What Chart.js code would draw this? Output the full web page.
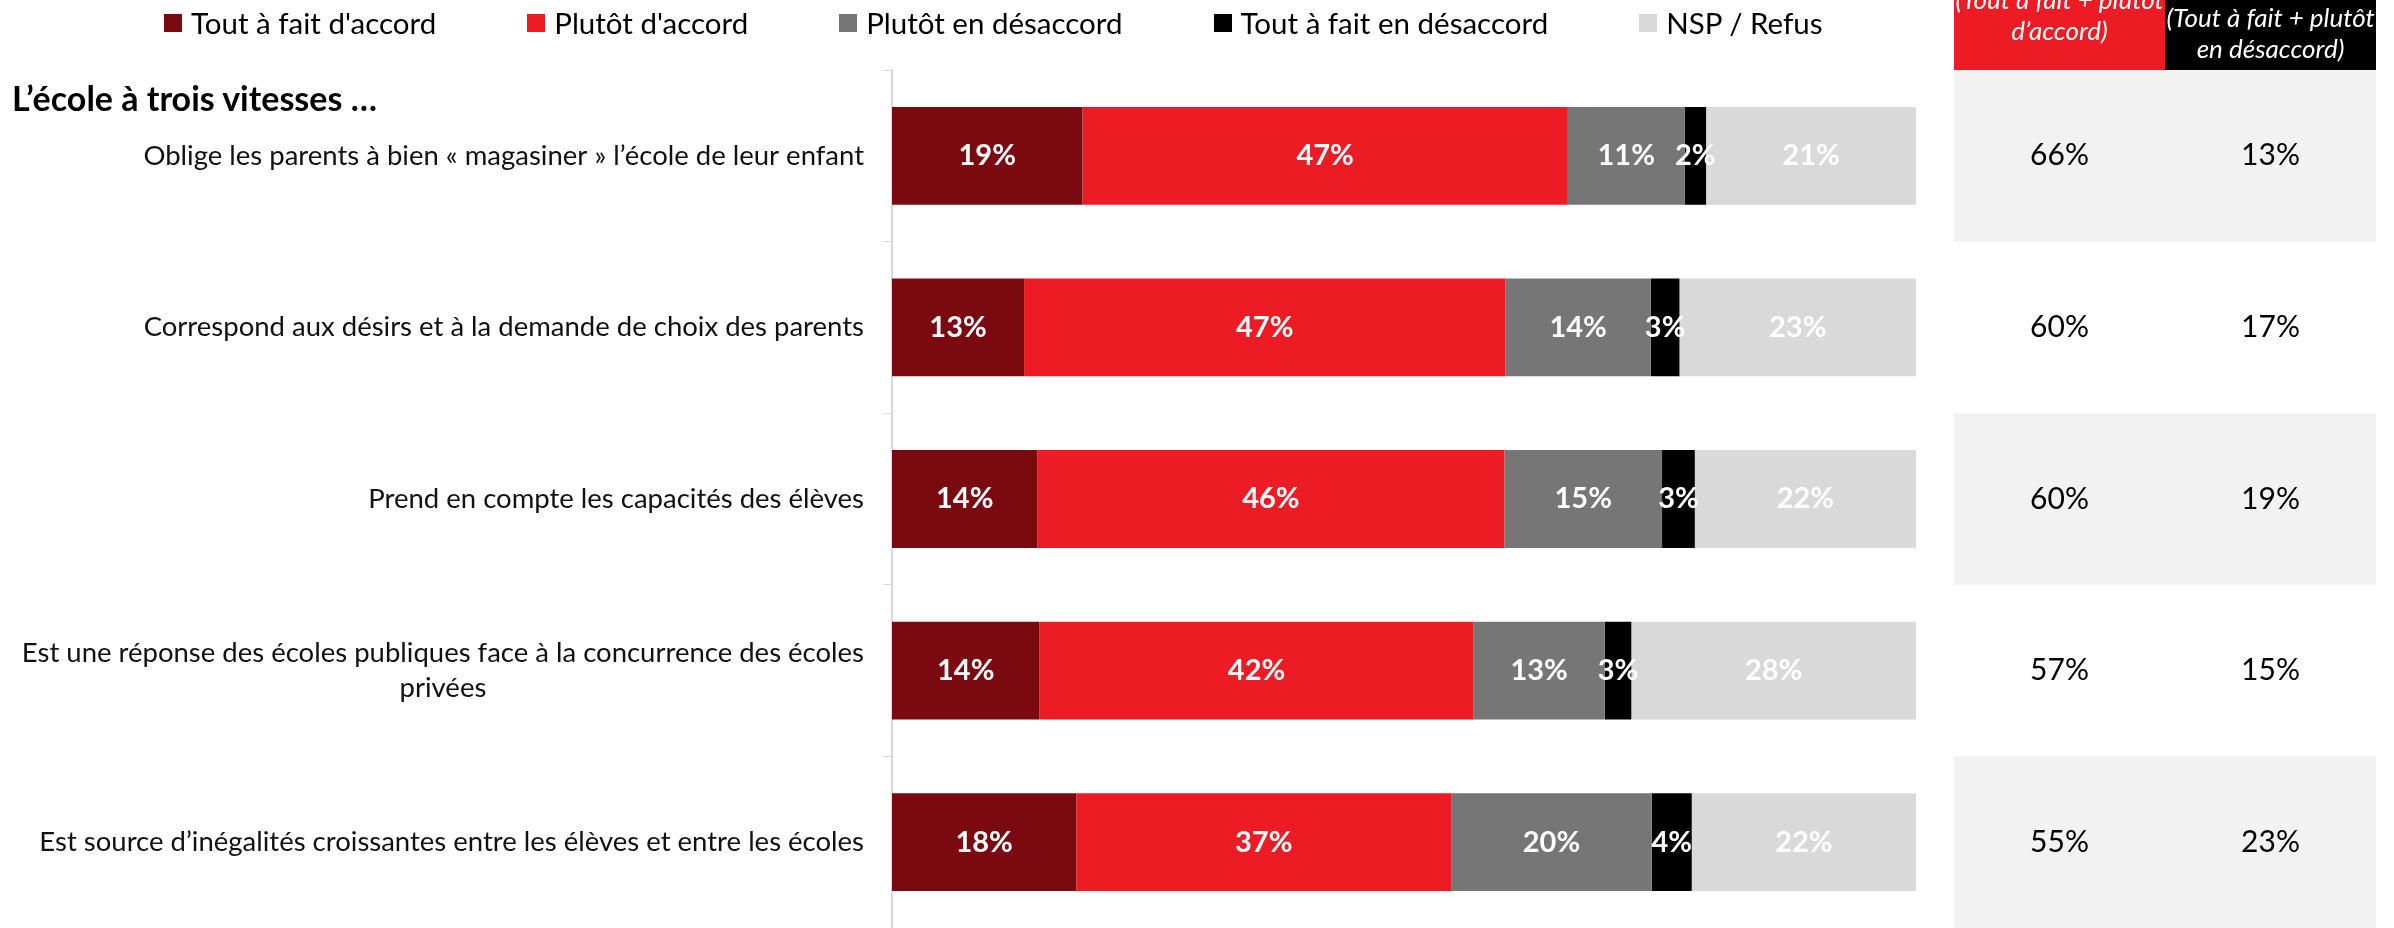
<!DOCTYPE html>
<html lang="fr">
<head>
<meta charset="utf-8">
<script src="https://cdn.jsdelivr.net/npm/chart.js@4.4.1/dist/chart.umd.min.js"></script>
<style>
  html, body { margin: 0; padding: 0; background: #fff; overflow: hidden; }
  #wrap { position: relative; width: 2394px; height: 928px; font-family: Lato, "Noto Sans", sans-serif; }
  #chart { position: absolute; left: 0; top: 0; }
  #legend { position: absolute; left: 164px; top: 8px; display: flex; gap: 91px; font-size: 29.5px; line-height: 30px; color: #000; }
  #legend .item { display: flex; align-items: center; gap: 9px; white-space: nowrap; }
  #legend .box { width: 18px; height: 18px; display: inline-block; }
  #heading { position: absolute; left: 12px; top: 81px; font-size: 34px; line-height: 34px; font-weight: bold; color: #000; }
</style>
</head>
<body>
<div id="wrap">
  <canvas id="chart" width="2394" height="928"></canvas>
  <div id="legend"></div>
  <div id="heading">L’école à trois vitesses …</div>
</div>
<script>
const categories = [
  'Oblige les parents à bien « magasiner » l’école de leur enfant',
  'Correspond aux désirs et à la demande de choix des parents',
  'Prend en compte les capacités des élèves',
  ['Est une réponse des écoles publiques face à la concurrence des écoles', 'privées'],
  'Est source d’inégalités croissantes entre les élèves et entre les écoles'
];
const seriesNames = ["Tout à fait d'accord", "Plutôt d'accord", 'Plutôt en désaccord', 'Tout à fait en désaccord', 'NSP / Refus'];
const seriesColors = ['#7b0a10', '#ed1c24', '#767676', '#000000', '#d9d9d9'];

const toutAccord = [18.6, 12.9, 14.2, 14.4, 18.0];
const plutotAccord = [47.4, 47.0, 45.6, 42.4, 36.6];
const plutotDesaccord = [11.4, 14.2, 15.4, 12.8, 19.6];
const toutDesaccord = [2.1, 2.8, 3.2, 2.6, 3.9];
const nspRefus = [20.5, 23.1, 21.6, 27.8, 21.9];

const totalAccord = [66, 60, 60, 57, 55];
const totalDesaccord = [13, 17, 19, 15, 23];
const headerAccord = ['(Tout à fait + plutôt', 'd’accord)'];
const headerDesaccord = ['(Tout à fait + plutôt', 'en désaccord)'];

const FONT = 'Lato, "Noto Sans", sans-serif';
const seriesData = [toutAccord, plutotAccord, plutotDesaccord, toutDesaccord, nspRefus];

// html legend
const legendEl = document.getElementById('legend');
seriesNames.forEach((name, i) => {
  const item = document.createElement('span');
  item.className = 'item';
  item.innerHTML = '<span class="box" style="background:' + seriesColors[i] + '"></span><span>' + name + '</span>';
  legendEl.appendChild(item);
});

// category labels on the left, right aligned, multi-line centred
const yLabels = {
  id: 'yLabels',
  afterDraw(chart) {
    const { ctx, chartArea, scales } = chart;
    ctx.save();
    ctx.font = '27.5px ' + FONT;
    ctx.fillStyle = '#111';
    ctx.textBaseline = 'middle';
    ctx.textAlign = 'center';
    const lh = 35;
    categories.forEach((lab, i) => {
      const lines = Array.isArray(lab) ? lab : [lab];
      const w = Math.max(...lines.map(l => ctx.measureText(l).width));
      const cx = chartArea.left - 28 - w / 2;
      const y0 = scales.y.getPixelForValue(i) - (lines.length - 1) * lh / 2;
      lines.forEach((l, k) => ctx.fillText(l, cx, y0 + k * lh));
    });
    ctx.restore();
  }
};

// percentages inside the segments
const barLabels = {
  id: 'barLabels',
  afterDatasetsDraw(chart) {
    const { ctx } = chart;
    ctx.save();
    ctx.font = 'bold 29px ' + FONT;
    ctx.fillStyle = '#fff';
    ctx.textAlign = 'center';
    ctx.textBaseline = 'middle';
    chart.data.datasets.forEach((ds, di) => {
      chart.getDatasetMeta(di).data.forEach((el, i) => {
        ctx.fillText(Math.round(ds.data[i]) + '%', (el.x + el.base) / 2, el.y);
      });
    });
    ctx.restore();
  }
};

// totals table on the right
const totalsTable = {
  id: 'totalsTable',
  afterDraw(chart) {
    const { ctx, chartArea, scales } = chart;
    const left = 1954, colW = 211, top = chartArea.top;
    const half = (scales.y.getPixelForValue(1) - scales.y.getPixelForValue(0)) / 2;
    ctx.save();
    ctx.fillStyle = '#ed1c24';
    ctx.fillRect(left, 0, colW, top);
    ctx.fillStyle = '#000';
    ctx.fillRect(left + colW, 0, colW, top);
    ctx.font = 'italic 26px ' + FONT;
    ctx.fillStyle = '#fff';
    ctx.textAlign = 'center';
    ctx.textBaseline = 'middle';
    headerAccord.forEach((t, k) => ctx.fillText(t, left + colW / 2, top - 69 + k * 31));
    headerDesaccord.forEach((t, k) => ctx.fillText(t, left + colW * 1.5, top - 51 + k * 31));
    totalAccord.forEach((v, i) => {
      const y = scales.y.getPixelForValue(i);
      if (i % 2 === 0) {
        ctx.fillStyle = '#f2f2f2';
        ctx.fillRect(left, y - half, colW * 2, half * 2);
      }
      ctx.fillStyle = '#000';
      ctx.font = '30px ' + FONT;
      ctx.fillText(v + '%', left + colW / 2, y);
      ctx.fillText(totalDesaccord[i] + '%', left + colW * 1.5, y);
    });
    ctx.restore();
  }
};

new Chart(document.getElementById('chart').getContext('2d'), {
  type: 'bar',
  data: {
    labels: categories,
    datasets: seriesNames.map((name, i) => ({
      label: name,
      data: seriesData[i],
      backgroundColor: seriesColors[i],
      borderWidth: 0,
      barPercentage: 0.57,
      categoryPercentage: 1
    }))
  },
  options: {
    indexAxis: 'y',
    responsive: false,
    animation: false,
    layout: { padding: { top: 70, right: 478, left: 0, bottom: 0 } },
    plugins: { legend: { display: false }, tooltip: { enabled: false } },
    scales: {
      x: { stacked: true, min: 0, max: 100, display: false },
      y: {
        stacked: true,
        ticks: { display: false },
        grid: { drawOnChartArea: false, drawTicks: true, tickLength: 9, color: '#d9d9d9', offset: true },
        border: { display: true, color: '#d9d9d9', width: 2 },
        afterFit: s => { s.width = 892; }
      }
    }
  },
  plugins: [yLabels, barLabels, totalsTable]
});
</script>
</body>
</html>
